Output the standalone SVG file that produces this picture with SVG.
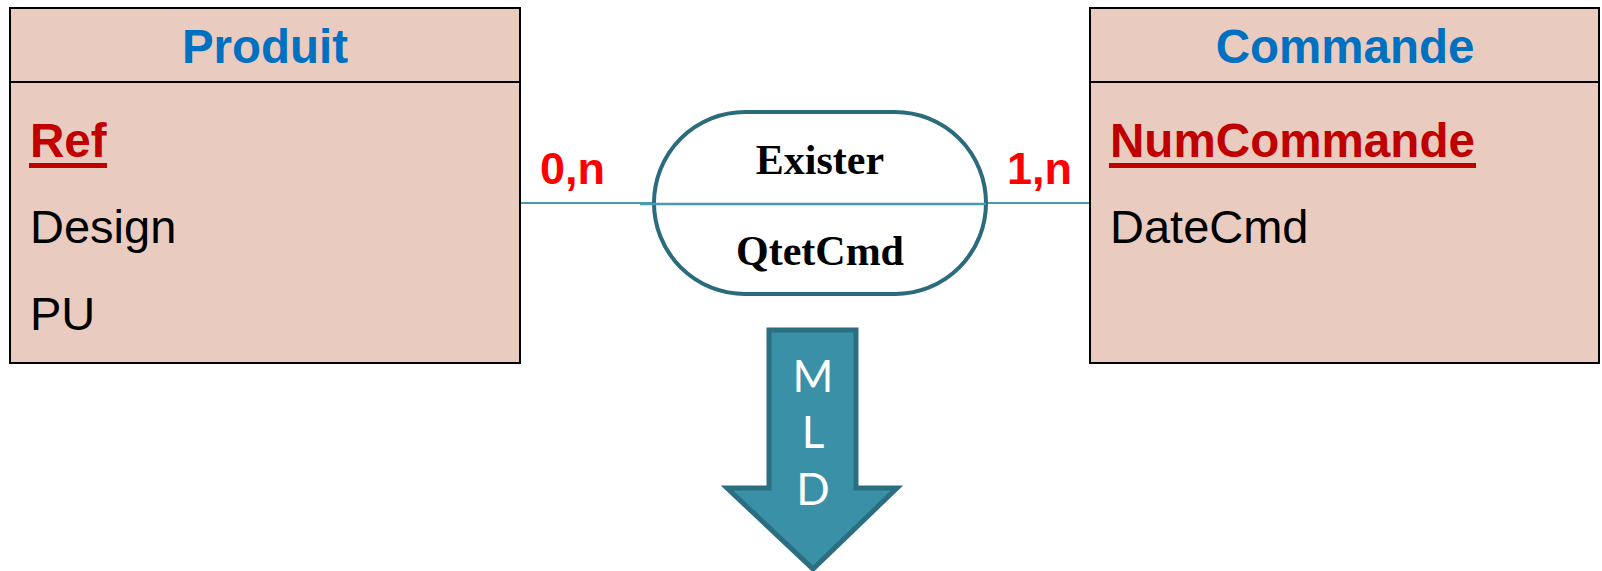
<svg xmlns="http://www.w3.org/2000/svg" width="1602" height="571" viewBox="0 0 1602 571">
<style>
.box{fill:#EACBC0;stroke:#000;stroke-width:2}
.sep{stroke:#000;stroke-width:2}
.title{font-family:"Liberation Sans",Arial,sans-serif;font-weight:bold;font-size:47.5px;fill:#0070C0;text-anchor:middle}
.key{font-family:"Liberation Sans",Arial,sans-serif;font-weight:bold;font-size:47.6px;fill:#C00000}
.attr{font-family:"Liberation Sans",Arial,sans-serif;font-size:47px;fill:#000}
.card{font-family:"Liberation Sans",Arial,sans-serif;font-weight:bold;font-size:45px;fill:#FF0000}
.rel{font-family:"Liberation Serif","Times New Roman",serif;font-weight:bold;font-size:42px;fill:#000;text-anchor:middle}
.conn{stroke:#4A9BB0;stroke-width:2;fill:none}
.mld{font-family:Lato,"Open Sans",sans-serif;font-size:44px;fill:#fff;text-anchor:middle}
</style>
<rect width="1602" height="571" fill="#fff"/>
<g id="connectors">
<line class="conn" x1="520" y1="203" x2="654" y2="203"/>
<line class="conn" x1="986" y1="203" x2="1090" y2="203"/>
</g>
<g id="produit">
<rect class="box" x="10" y="8" width="510" height="355"/>
<line class="sep" x1="10" y1="82" x2="520" y2="82"/>
<text class="title" x="265" y="63">Produit</text>
<text class="key" x="30" y="157">Ref</text>
<rect x="29" y="163" width="78" height="5" fill="#C00000"/>
<text class="attr" x="30" y="243">Design</text>
<text class="attr" x="30" y="330">PU</text>
</g>
<g id="commande">
<rect class="box" x="1090" y="8" width="509" height="355"/>
<line class="sep" x1="1090" y1="82" x2="1599" y2="82"/>
<text class="title" x="1345" y="63">Commande</text>
<text class="key" x="1110" y="157">NumCommande</text>
<rect x="1109" y="163" width="367" height="5" fill="#C00000"/>
<text class="attr" x="1110" y="243">DateCmd</text>
</g>
<g id="exister">
<rect x="654" y="112" width="332" height="182" rx="91" ry="91" fill="#fff" stroke="#2A6B7C" stroke-width="4"/>
<line x1="640" y1="204" x2="986" y2="204" stroke="#4A9BB0" stroke-width="2.5"/>
<text class="rel" x="820" y="174">Exister</text>
<text class="rel" x="820" y="265">QtetCmd</text>
</g>
<g id="cardinalities">
<text class="card" x="540" y="184">0,n</text>
<text class="card" x="1007" y="184">1,n</text>
</g>
<g id="arrow">
<path d="M769,330 H856 V488 H897 L813,569 L727,488 H769 Z" fill="#3A90A7" stroke="#2B6E80" stroke-width="5" stroke-linejoin="miter"/>
<text class="mld" x="813" y="392">M</text>
<text class="mld" x="813" y="448">L</text>
<text class="mld" x="813" y="505">D</text>
</g>
</svg>
